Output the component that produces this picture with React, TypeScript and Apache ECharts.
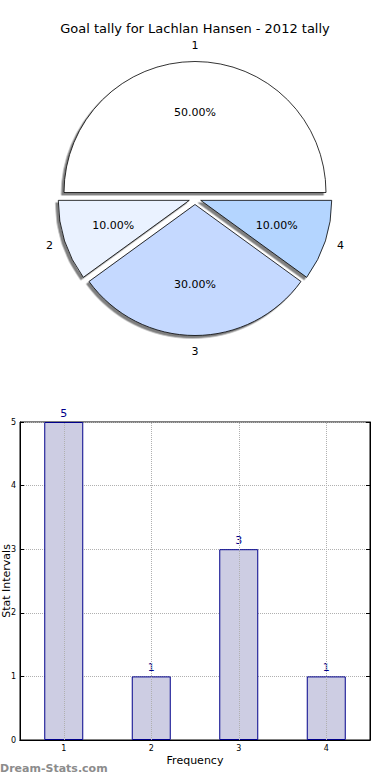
import React, { useEffect, useRef } from "react";
import * as echarts from "echarts";

const titleText = "Goal tally for Lachlan Hansen - 2012 tally";
const categories = ["1", "2", "3", "4"];
const pieValues = [5, 1, 3, 1];
const barValues = [5, 1, 3, 1];
const pieColors = ["#ffffff", "#eaf2ff", "#c5d9ff", "#b4d5ff"];
const yMin = 0;
const yMax = 5;
const yInterval = 1;
const xAxisName = "Frequency";
const yAxisName = "Stat Intervals";
const watermark = "Dream-Stats.com";

const FONT = '"DejaVu Sans", sans-serif';

export default function App() {
  const ref = useRef<HTMLDivElement>(null);

  useEffect(() => {
    if (!ref.current) return;
    const chart = echarts.init(ref.current, undefined, { renderer: "svg" });
    const center = [195, 198.5];
    const transparent = "rgba(0,0,0,0)";
    const nameAlign = ["center", "right", "center", "left"];

    const pieData = categories.map((c, i) => ({
      name: c,
      value: pieValues[i],
      selected: true,
      itemStyle: { color: pieColors[i] },
    }));
    const pctData = categories.map((c, i) => ({
      name: c,
      value: pieValues[i],
      selected: true,
    }));
    const nameData = categories.map((c, i) => ({
      name: c,
      value: pieValues[i],
      selected: true,
      label: { align: nameAlign[i] },
    }));

    const pieCommon = {
      type: "pie",
      center,
      startAngle: 0,
      clockwise: false,
      selectedMode: "multiple",
      selectedOffset: 6,
      avoidLabelOverlap: false,
      silent: true,
      emphasis: { disabled: true, scale: false },
      labelLine: { show: false },
    };

    chart.setOption({
      animation: false,
      textStyle: { fontFamily: FONT },
      title: {
        text: titleText,
        left: "center",
        top: 17,
        textStyle: { fontSize: 13, fontWeight: "normal", color: "#000", fontFamily: FONT },
      },
      grid: {
        left: 20,
        right: 20,
        top: 422,
        bottom: 40,
        show: true,
        borderColor: "#000",
        borderWidth: 1,
        backgroundColor: "transparent",
        containLabel: false,
        outerBoundsMode: "none",
      },
      xAxis: [
        {
          type: "category",
          data: categories,
          position: "bottom",
          axisLine: { lineStyle: { color: "#000", width: 1 } },
          axisTick: { alignWithLabel: true, inside: true, length: 4, lineStyle: { color: "#000" } },
          axisLabel: { fontSize: 8, color: "#000", margin: 4, fontFamily: FONT },
          splitLine: { show: false },
          name: xAxisName,
          nameLocation: "middle",
          nameGap: 15,
          nameMoveOverlap: false,
          nameTextStyle: { fontSize: 11, color: "#000", fontFamily: FONT },
        },
        {
          type: "category",
          data: categories,
          position: "top",
          axisLine: { lineStyle: { color: "#000", width: 1 } },
          axisTick: { alignWithLabel: true, inside: true, length: 4, lineStyle: { color: "#000" } },
          axisLabel: { show: false },
          splitLine: { show: false },
        },
      ],
      yAxis: [
        {
          type: "value",
          min: yMin,
          max: yMax,
          interval: yInterval,
          position: "left",
          axisLine: { show: true, lineStyle: { color: "#000", width: 1 } },
          axisTick: { show: true, inside: true, length: 4, lineStyle: { color: "#000" } },
          axisLabel: { fontSize: 8, color: "#000", margin: 4, fontFamily: FONT },
          splitLine: { show: true, lineStyle: { type: "dotted", color: "#b0b0b0", width: 1 } },
          name: yAxisName,
          nameLocation: "middle",
          nameGap: 8.5,
          nameRotate: 90,
          nameMoveOverlap: false,
          nameTextStyle: { fontSize: 11, color: "#000", fontFamily: FONT },
        },
        {
          type: "value",
          min: yMin,
          max: yMax,
          interval: yInterval,
          position: "right",
          axisLine: { show: true, lineStyle: { color: "#000", width: 1 } },
          axisTick: { show: true, inside: true, length: 4, lineStyle: { color: "#000" } },
          axisLabel: { show: false },
          splitLine: { show: false },
        },
      ],
      graphic: [
        {
          type: "text",
          left: 0,
          top: 763,
          style: {
            text: watermark,
            font: `bold 11px ${FONT}`,
            fill: "#8c8c8c",
          },
        },
      ],
      series: [
        {
          ...pieCommon,
          name: "pie",
          radius: 131,
          data: pieData,
          label: { show: false },
          itemStyle: {
            borderColor: "#000",
            borderWidth: 0.8,
            shadowColor: "rgba(0,0,0,0.5)",
            shadowOffsetX: -2.5,
            shadowOffsetY: 2.5,
            shadowBlur: 0,
          },
          select: {
            itemStyle: {
              borderColor: "#000",
              borderWidth: 0.8,
            },
          },
        },
        {
          ...pieCommon,
          name: "pct",
          radius: 154,
          data: pctData,
          z: 5,
          itemStyle: { color: transparent, borderWidth: 0 },
          select: { itemStyle: { color: transparent, borderWidth: 0 } },
          label: {
            show: true,
            position: "inside",
            fontSize: 11,
            color: "#000",
            fontFamily: FONT,
            formatter: (p: any) => p.percent.toFixed(2) + "%",
          },
        },
        {
          ...pieCommon,
          name: "names",
          radius: 288,
          data: nameData,
          z: 5,
          itemStyle: { color: transparent, borderWidth: 0 },
          select: { itemStyle: { color: transparent, borderWidth: 0 } },
          label: {
            show: true,
            position: "inside",
            fontSize: 11,
            color: "#000",
            fontFamily: FONT,
            formatter: (p: any) => p.name,
          },
        },
        {
          type: "bar",
          name: "bars",
          xAxisIndex: 0,
          yAxisIndex: 0,
          data: barValues,
          barWidth: 39,
          silent: true,
          itemStyle: { color: "#cdcde3", borderColor: "#00008b", borderWidth: 1 },
          label: {
            show: true,
            position: "top",
            distance: 3,
            fontSize: 11,
            color: "#00008b",
            fontFamily: FONT,
          },
          markLine: {
            silent: true,
            symbol: ["none", "none"],
            label: { show: false },
            lineStyle: { type: "dotted", color: "#b0b0b0", width: 1 },
            data: categories.map((c) => ({ xAxis: c })),
          },
        },
      ],
    });

    return () => chart.dispose();
  }, []);

  return (
    <div
      ref={ref}
      style={{ position: "absolute", left: 0, top: 0, width: 390, height: 780, background: "#fff" }}
    />
  );
}
